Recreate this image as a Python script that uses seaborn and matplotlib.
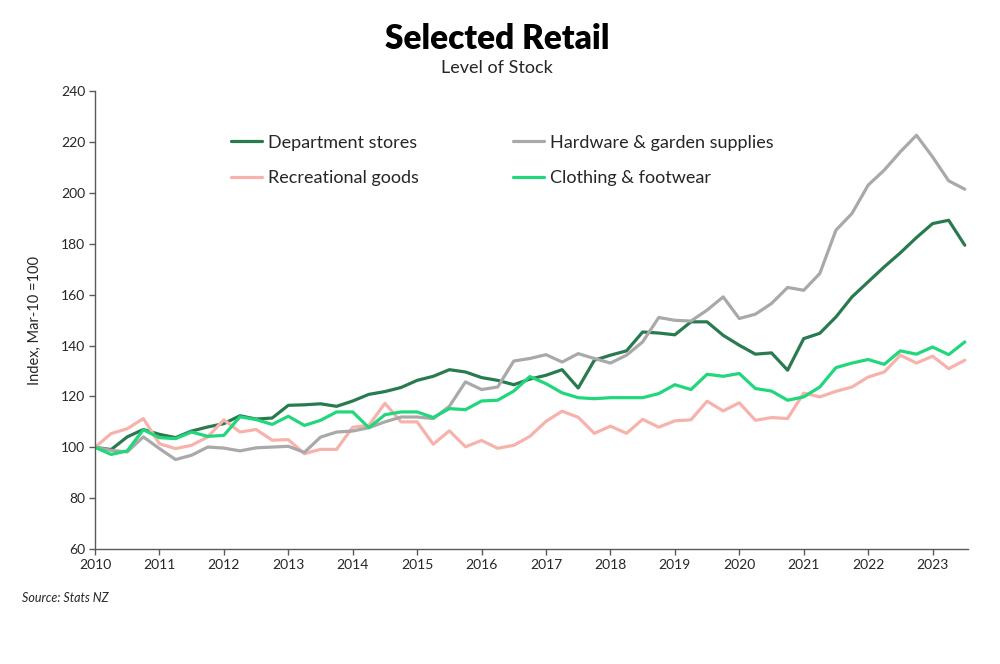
import matplotlib
matplotlib.use('Agg')
import matplotlib.pyplot as plt
import seaborn as sns
import pandas as pd

# quarterly index, Mar-10 = 100
quarters = pd.period_range('2010Q1', '2023Q3', freq='Q')
year_ticks = list(range(2010, 2024))

dept = [100, 99.1, 104.1, 107.0, 105.1, 103.8, 106.4, 108.0, 109.3, 112.4,
        111.1, 111.5, 116.5, 116.7, 117.1, 116.1, 118.2, 120.8, 121.9, 123.5,
        126.3, 127.9, 130.5, 129.6, 127.4, 126.3, 124.6, 126.8, 128.3, 130.5,
        123.3, 134.2, 136.2, 137.9, 145.3, 144.9, 144.2, 149.3, 149.3, 144.0,
        140.1, 136.6, 137.1, 130.3, 142.7, 144.8, 151.2, 159.1, 165.0, 170.9,
        176.4, 182.4, 187.9, 189.2, 179.4]
hardware = [100, 98.8, 98.2, 104.1, 99.5, 95.2, 96.9, 100.1, 99.7, 98.6,
            99.8, 100.1, 100.4, 98.0, 104.0, 106.0, 106.4, 107.7, 110.0, 111.9,
            111.9, 111.3, 116.1, 125.7, 122.7, 123.7, 133.9, 134.9, 136.4, 133.5,
            136.8, 134.9, 133.1, 136.2, 141.4, 151.0, 149.9, 149.6, 153.9, 159.1,
            150.6, 152.3, 156.5, 162.8, 161.7, 168.3, 185.3, 191.9, 203.0, 208.9,
            216.1, 222.6, 214.1, 204.7, 201.4]
recreational = [100, 105.4, 107.3, 111.3, 101.4, 99.5, 100.8, 104.1, 110.8, 106.0,
                107.0, 102.8, 103.0, 97.5, 99.2, 99.2, 107.9, 108.6, 117.3, 110.0,
                110.0, 101.2, 106.5, 100.2, 102.7, 99.6, 100.8, 104.3, 110.2, 114.2,
                111.8, 105.5, 108.3, 105.5, 111.0, 107.9, 110.4, 110.8, 118.1, 114.3,
                117.5, 110.6, 111.7, 111.3, 121.3, 119.8, 122.0, 123.7, 127.6, 129.6,
                136.2, 133.1, 135.8, 130.9, 134.2]
clothing = [100, 97.2, 98.6, 106.9, 103.8, 103.4, 106.0, 104.3, 104.7, 112.0,
            110.9, 109.0, 112.2, 108.6, 110.6, 113.9, 113.9, 107.7, 112.8, 113.9,
            113.9, 111.7, 115.2, 114.8, 118.2, 118.5, 122.1, 127.8, 125.0, 121.4,
            119.5, 119.1, 119.5, 119.5, 119.5, 121.1, 124.6, 122.7, 128.7, 127.9,
            129.0, 123.1, 122.1, 118.5, 119.8, 123.7, 131.3, 133.1, 134.5, 132.6,
            137.9, 136.6, 139.4, 136.4, 141.4]

series_names = ['Department stores', 'Recreational goods',
                'Hardware & garden supplies', 'Clothing & footwear']
series_values = [dept, recreational, hardware, clothing]
cores = {'Department stores': '#2A7A50',
         'Recreational goods': '#F6B3AC',
         'Hardware & garden supplies': '#A9A9A9',
         'Clothing & footwear': '#22D67C'}
texto = '#262626'

# quarter -> position on a year axis (Mar quarter sits on the year tick)
x_pos = [q.year + (q.quarter - 1) / 4 for q in quarters]
frames = []
for nome, vals in zip(series_names, series_values):
    frames.append(pd.DataFrame({'Quarter': x_pos, 'Index': vals, 'Series': nome}))
df = pd.concat(frames, ignore_index=True)

sns.set_style('white')
plt.rcParams['font.family'] = ['Lato', 'DejaVu Sans']

fig = plt.figure(figsize=(10, 6.64), dpi=100)
ax = fig.add_axes([0.095, 0.173, 0.873, 0.690])

sns.lineplot(data=df, x='Quarter', y='Index', hue='Series', hue_order=series_names,
             palette=cores, linewidth=2.3, ax=ax)

ax.set_xlim(2010, 2023.55)
ax.set_ylim(60, 240)
ax.set_yticks(range(60, 241, 20))
ax.set_xticks(year_ticks)
ax.set_xticklabels([str(y) for y in year_ticks])
ax.tick_params(axis='both', direction='out', length=4, width=1, color='#595959',
               labelsize=10, labelcolor=texto, pad=3)
ax.tick_params(axis='y', left=True)
ax.tick_params(axis='x', bottom=True)
for s in ['top', 'right']:
    ax.spines[s].set_visible(False)
for s in ['left', 'bottom']:
    ax.spines[s].set_color('#595959')
    ax.spines[s].set_linewidth(1)

ax.set_xlabel('')
ax.set_ylabel('Index, Mar-10 =100', fontsize=10.5, color=texto)
ax.yaxis.set_label_coords(-0.061, 0.5)

ax.legend(loc='upper left', bbox_to_anchor=(0.137, 0.94), ncol=2, frameon=False,
          fontsize=13, handlelength=1.75, handletextpad=0.3, columnspacing=5.2,
          labelspacing=1.07, labelcolor=texto)

fig.text(0.497, 0.941, 'Selected Retail', ha='center', va='center',
         fontsize=24, fontweight='heavy', color='black')
fig.text(0.497, 0.897, 'Level of Stock', ha='center', va='center',
         fontsize=13, color=texto)
fig.text(0.022, 0.099, 'Source: Stats NZ', ha='left', va='center',
         fontsize=9, style='italic', color=texto)

plt.savefig('out.png', dpi=100)
